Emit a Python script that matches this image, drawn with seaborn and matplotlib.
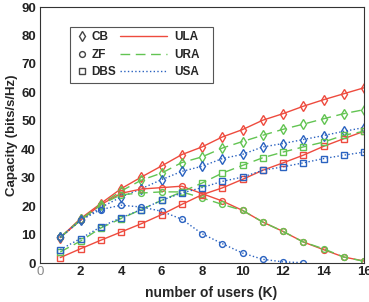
import numpy as np
import pandas as pd
import seaborn as sns
import matplotlib.pyplot as plt
from matplotlib.lines import Line2D
from matplotlib.patches import Rectangle

users = list(range(1, 17))

# CB
cb_ula = [8.9, 15.6, 20.9, 26.1, 30.2, 34.1, 38.1, 40.8, 44.3, 46.9, 50.2, 52.5, 55.1, 57.4, 59.5, 61.6]
cb_ura = [9.0, 15.3, 20.5, 25.3, 29.1, 31.6, 35.3, 37.3, 40.4, 42.7, 44.9, 47.0, 48.8, 50.7, 52.5, 53.9]
cb_usa = [9.0, 15.0, 19.5, 23.2, 26.1, 29.3, 32.2, 34.0, 36.7, 38.2, 40.8, 42.0, 43.4, 44.8, 46.3, 47.6]
# ZF
zf_ula = [9.0, 15.0, 20.5, 24.5, 26.0, 26.5, 27.0, 24.4, 21.8, 18.5, 14.4, 11.1, 7.4, 4.7, 2.1, 0.7]
zf_ura = [9.0, 15.0, 20.5, 24.0, 24.6, 25.0, 25.0, 22.9, 20.6, 18.5, 14.4, 11.1, 7.4, 5.0, 2.1, 0.6]
zf_usa = [9.0, 15.0, 18.8, 20.3, 19.7, 18.2, 15.4, 10.3, 6.8, 3.5, 1.3, 0.4, 0.1, np.nan, np.nan, np.nan]
# DBS
dbs_ula = [1.9, 5.0, 8.0, 10.9, 13.8, 17.0, 20.6, 24.0, 26.4, 29.4, 32.6, 35.2, 37.9, 41.0, 43.7, 46.3]
dbs_ura = [3.9, 7.7, 12.3, 15.6, 18.8, 22.0, 25.0, 28.1, 31.6, 34.3, 37.0, 39.0, 40.8, 42.5, 44.9, 46.3]
dbs_usa = [4.7, 8.6, 12.7, 15.9, 18.8, 22.0, 24.6, 26.5, 28.7, 30.2, 32.6, 33.8, 35.2, 36.7, 37.9, 39.0]

red = "#ee4b3e"
green = "#62c452"
blue = "#2a62c0"
dash = (0, (7, 4))

sns.set_style("white")
plt.rcParams["font.family"] = ["Liberation Sans", "DejaVu Sans"]

fig = plt.figure(figsize=(3.69, 3.02), dpi=100)
ax = fig.add_axes([40 / 369, 1 - 263 / 302, 324 / 369, 256 / 302])

series = [
    (cb_ula, red, "-", "d"), (cb_ura, green, dash, "d"), (cb_usa, blue, ":", "d"),
    (zf_ula, red, "-", "o"), (zf_ura, green, dash, "o"), (zf_usa, blue, ":", "o"),
    (dbs_ula, red, "-", "s"), (dbs_ura, green, dash, "s"), (dbs_usa, blue, ":", "s"),
]
for vals, c, ls, m in series:
    sns.lineplot(x=users, y=vals, ax=ax, color=c, linestyle=ls, linewidth=1.0,
                 marker=m, markersize=5 if m == "d" else 4.2, markerfacecolor="none",
                 markeredgecolor=c, markeredgewidth=1.0)

ax.set_xlim(0, 16)
ax.set_ylim(0, 90)
ax.set_xticks(range(0, 17, 2))
ax.set_yticks(range(0, 91, 10))
ax.tick_params(direction="in", length=3, width=0.8, colors="#222222", labelsize=9.5)
ax.tick_params(axis="x", pad=2)
ax.tick_params(axis="y", pad=3)
for lab in ax.get_xticklabels() + ax.get_yticklabels():
    lab.set_fontweight("bold")
ax.get_xticklabels()[0].set_fontweight("normal")
ax.get_xticklabels()[0].set_color("#888888")
for s in ax.spines.values():
    s.set_color("#333333")
    s.set_linewidth(0.8)
ax.set_xlabel("number of users (K)", fontsize=10, fontweight="bold")
ax.xaxis.set_label_coords(0.528, -0.088)
ax.set_ylabel("Capacity (bits/s/Hz)", fontsize=9.5, fontweight="bold")
ax.yaxis.set_label_coords(-0.068, 0.5)

# legend: marker column and line column inside one box
mk = "#444444"
mhandles = [
    Line2D([], [], linestyle="none", marker="d", mfc="none", mec=mk, ms=5),
    Line2D([], [], linestyle="none", marker="o", mfc="none", mec=mk, ms=4.2),
    Line2D([], [], linestyle="none", marker="s", mfc="none", mec=mk, ms=4.2),
]
lhandles = [
    Line2D([], [], color=red, linestyle="-", lw=1.0),
    Line2D([], [], color=green, linestyle=dash, lw=1.0),
    Line2D([], [], color=blue, linestyle=":", lw=1.0),
]
prop = {"weight": "bold", "size": 8.5}
leg1 = ax.legend(mhandles, ["CB", "ZF", "DBS"], loc="upper left", bbox_to_anchor=(0.115, 0.905),
                 frameon=False, prop=prop, handlelength=0.8, handletextpad=0.4,
                 labelspacing=0.45, borderpad=0, borderaxespad=0)
ax.add_artist(leg1)
ax.legend(lhandles, ["ULA", "URA", "USA"], loc="upper left", bbox_to_anchor=(0.247, 0.905),
          frameon=False, prop=prop, handlelength=4.0, handletextpad=0.6,
          labelspacing=0.45, borderpad=0, borderaxespad=0)
ax.add_patch(Rectangle((0.0926, 0.703), 0.441, 0.219, transform=ax.transAxes,
                       fill=False, edgecolor="#555555", linewidth=0.8, zorder=5))

fig.savefig("out.png", dpi=100)
